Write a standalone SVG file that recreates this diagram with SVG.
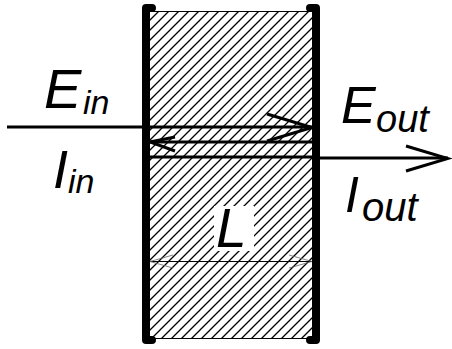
<svg xmlns="http://www.w3.org/2000/svg" width="452" height="349" viewBox="0 0 452 349">
<style>
.lbl{font-family:"Liberation Sans",Arial,sans-serif;font-style:italic;fill:#000}
.thick{stroke:#000;stroke-width:3;fill:none}
.wall{stroke:#000;stroke-width:8;fill:none;stroke-linecap:round;stroke-linejoin:round}
.thin{stroke:#000;stroke-width:1;fill:none}
.grey{stroke:#666;stroke-width:0.8;fill:none}
</style>
<defs>
<pattern id="hatch" patternUnits="userSpaceOnUse" width="10" height="10">
<path d="M-1,1 L1,-1 M0,10 L10,0 M9,11 L11,9" stroke="#000" stroke-width="1.3"/>
</pattern>
</defs>
<rect width="452" height="349" fill="#fff"/>
<g id="slab">
<rect x="150" y="11" width="162" height="327" fill="url(#hatch)"/>
<line x1="150" y1="11.5" x2="312" y2="11.5" class="thin"/>
<line x1="150" y1="338.5" x2="312" y2="338.5" class="thin"/>
<rect x="214" y="206" width="40" height="45" fill="#fff"/>
</g>
<g id="walls">
<path class="wall" d="M152,8 L146,8 L146,340 L152,340"/>
<path class="wall" d="M310,8 L316,8 L316,340 L310,340"/>
</g>
<g id="connectors">
<line x1="7" y1="127" x2="312" y2="127" class="thick"/>
<path class="thick" d="M267,114 L312,127.5 L267,141"/>
<line x1="150" y1="142" x2="312" y2="142" class="thick"/>
<path class="thick" d="M175,137 L150,142 L175,151"/>
<line x1="150" y1="157" x2="312" y2="157" class="thick"/>
<line x1="312" y1="158" x2="448" y2="158" class="thick"/>
<path class="thick" d="M406,146 L448,158.5 L406,171"/>
<line x1="150" y1="261.5" x2="312" y2="261.5" class="thin"/>
<path class="grey" d="M173,255 L150,261.5 L173,268 M289,255 L312,261.5 L289,268"/>
</g>
<g id="label-ein">
<text class="lbl" x="44" y="108" font-size="56">E</text>
<text class="lbl" x="83" y="114" font-size="34">in</text>
</g>
<g id="label-iin">
<text class="lbl" x="53" y="188" font-size="54">I</text>
<text class="lbl" x="68" y="193" font-size="34">in</text>
</g>
<g id="label-eout">
<text class="lbl" x="341" y="123" font-size="52">E</text>
<text class="lbl" x="376" y="132" font-size="38">out</text>
</g>
<g id="label-iout">
<text class="lbl" x="345" y="212" font-size="50">I</text>
<text class="lbl" x="362" y="221" font-size="40">out</text>
</g>
<g id="label-L">
<text class="lbl" x="216" y="247" font-size="55">L</text>
</g>
</svg>
